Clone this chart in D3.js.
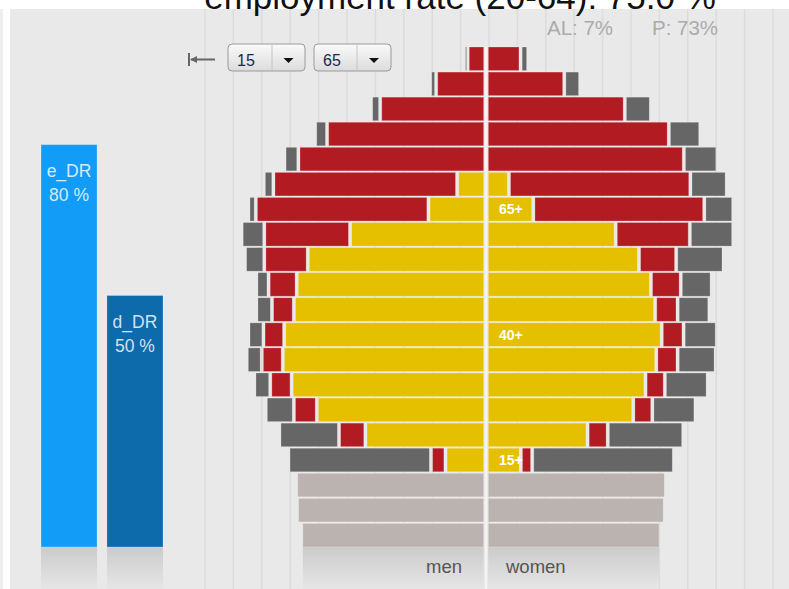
<!DOCTYPE html>
<html>
<head>
<meta charset="utf-8">
<script src="https://cdn.jsdelivr.net/npm/d3@7/dist/d3.min.js"></script>
<style>
body{margin:0;background:#fff;}
svg{display:block;font-family:"Liberation Sans",Arial,sans-serif;}
</style>
</head>
<body>
<svg id="chart" width="789" height="589"></svg>
<script>
// age groups, 5 years each (bottom row = 0-4)
let ages = [0,5,10,15,20,25,30,35,40,45,50,55,60,65,70,75,80,85,90,95];

// men (left side)
let menChildren = [64.5,66.0,66.3,0,0,0,0,0,0,0,0,0,0,0,0,0,0,0,0,0];
let menEmployed = [0,0,0,13.7,41.9,59.0,67.9,71.0,70.5,67.1,66.1,62.2,47.3,19.7,9.6,0,0,0,0,0];
let menRetired  = [0,0,0,5.1,9.3,8.1,7.5,7.4,7.3,7.7,9.9,15.3,30.2,60.8,64.7,65.5,55.4,36.7,17.0,5.9];
let menOther    = [0,0,0,50.2,21.0,9.9,5.6,5.3,5.3,5.5,4.3,6.8,8.0,2.6,3.4,4.9,4.2,3.2,2.1,1.3];

// women (right side)
let womenChildren = [60.9,62.4,62.8,0,0,0,0,0,0,0,0,0,0,0,0,0,0,0,0,0];
let womenEmployed = [0,0,0,11.7,35.2,51.3,55.6,59.4,61.3,59.0,57.5,53.3,45.1,16.1,7.5,0,0,0,0,0];
let womenRetired  = [0,0,0,4.0,7.1,6.7,6.8,7.5,7.7,7.9,10.5,13.1,26.1,60.2,63.9,69.1,63.8,48.3,27.0,11.6];
let womenOther    = [0,0,0,49.9,26.6,15.2,15.1,13.4,11.7,11.2,10.9,16.7,15.3,10.2,12.8,11.8,11.1,9.2,5.6,2.7];

let ageMarks = [15,40,65];

// dependency ratios on the left
let ratioNames = ["e_DR","d_DR"];
let ratioValues = [80,50];

let titleText = "employment rate (20-64): 75.0 %";
let statTexts = ["AL: 7%","P: 73%"];

let keys = ["children","employed","retired","other"];
let colors = {children:"#bab3af", employed:"#e5c000", retired:"#b31b22", other:"#666666"};

let svg = d3.select("#chart");
let cx = 486;

let defs = svg.append("defs");
let grad = defs.append("linearGradient").attr("id","refl").attr("x1",0).attr("y1",0).attr("x2",0).attr("y2",1);
grad.append("stop").attr("offset","0%").attr("stop-color","#cbcbcb");
grad.append("stop").attr("offset","100%").attr("stop-color","#e6e6e6");
let btn = defs.append("linearGradient").attr("id","btn").attr("x1",0).attr("y1",0).attr("x2",0).attr("y2",1);
btn.append("stop").attr("offset","0%").attr("stop-color","#fafafa");
btn.append("stop").attr("offset","100%").attr("stop-color","#dcdcdc");

// background panel
svg.append("rect").attr("x",0).attr("y",9).attr("width",3).attr("height",580).attr("fill","#eeeeee");
svg.append("rect").attr("x",10).attr("y",9).attr("width",779).attr("height",580).attr("fill","#e9e9e9");

let xs = d3.scaleLinear().domain([0,100]).range([0,284]);

// grid lines
let gridTicks = d3.range(-10,11);
svg.append("g").selectAll("line")
    .data(gridTicks)
    .enter()
    .append("line")
    .attr("x1", function(d){ return 489 + d*28.4 })
    .attr("x2", function(d){ return 489 + d*28.4 })
    .attr("y1", 9)
    .attr("y2", 589)
    .attr("stroke", "#dcdcdc")
    .attr("stroke-width", 1.5)

// title (cut at top, as in the original page)
svg.append("text").attr("x",460).attr("y",9).attr("text-anchor","middle")
    .attr("font-size",35).attr("fill","#111").text(titleText);

svg.append("text").attr("x",547).attr("y",35).attr("font-size",20.5).attr("fill","#ababab").text(statTexts[0]);
svg.append("text").attr("x",652).attr("y",35).attr("font-size",20.5).attr("fill","#ababab").text(statTexts[1]);

// left ratio bars
let yr = d3.scaleLinear().domain([0,100]).range([547,44]);
let xr = d3.scaleBand().domain(ratioNames).range([41,163]).paddingInner(0.15);
let ratioColors = ["#139cf7","#0d6aab"];

let ratioG = svg.append("g");
ratioG.selectAll("rect.refl")
    .data(ratioNames)
    .enter()
    .append("rect")
    .attr("class","refl")
    .attr("x", function(d){ return xr(d) })
    .attr("y", 547)
    .attr("width", xr.bandwidth())
    .attr("height", 42)
    .attr("fill", "url(#refl)")
ratioG.selectAll("rect.bar")
    .data(ratioNames)
    .enter()
    .append("rect")
    .attr("class","bar")
    .attr("x", function(d){ return xr(d) })
    .attr("y", function(d,i){ return yr(ratioValues[i]) })
    .attr("width", xr.bandwidth())
    .attr("height", function(d,i){ return yr(0) - yr(ratioValues[i]) })
    .attr("fill", function(d,i){ return ratioColors[i] })
    .attr("stroke", "rgba(255,255,255,0.25)")
ratioG.selectAll("text.name")
    .data(ratioNames)
    .enter()
    .append("text")
    .attr("x", function(d){ return xr(d) + xr.bandwidth()/2 })
    .attr("y", function(d,i){ return yr(ratioValues[i]) + 32 })
    .attr("text-anchor","middle").attr("font-size",17.5).attr("fill","rgba(255,255,255,0.82)")
    .text(function(d){ return d })
ratioG.selectAll("text.val")
    .data(ratioNames)
    .enter()
    .append("text")
    .attr("x", function(d){ return xr(d) + xr.bandwidth()/2 })
    .attr("y", function(d,i){ return yr(ratioValues[i]) + 56 })
    .attr("text-anchor","middle").attr("font-size",17.5).attr("fill","rgba(255,255,255,0.82)")
    .text(function(d,i){ return ratioValues[i] + " %" })

// pyramid
let yb = d3.scaleBand().domain(ages.slice().reverse()).range([47,547]).paddingInner(0.06);

let menRows = ages.map(function(a,i){
    return {age:a, children:menChildren[i], employed:menEmployed[i], retired:menRetired[i], other:menOther[i]};
});
let womenRows = ages.map(function(a,i){
    return {age:a, children:womenChildren[i], employed:womenEmployed[i], retired:womenRetired[i], other:womenOther[i]};
});

let stack = d3.stack().keys(keys);

function drawSide(rows, sign){
    let layers = stack(rows);
    let g = svg.append("g");
    // reflection under the youngest row
    let base = rows[0].children;
    g.append("rect")
        .attr("x", sign > 0 ? cx + 2.3 : cx - xs(base))
        .attr("y", 547)
        .attr("width", xs(base) - 2.3)
        .attr("height", 42)
        .attr("fill", "url(#refl)")
    layers.forEach(function(layer){
        g.append("g").selectAll("rect")
            .data(layer.filter(function(d){ return d[1] - d[0] > 0 }))
            .enter()
            .append("rect")
            .attr("x", function(d){
                let inner = xs(d[0]) + (d[0] == 0 ? 2.3 : 3.2);
                return sign > 0 ? cx + inner : cx - xs(d[1]);
            })
            .attr("y", function(d){ return yb(d.data.age) })
            .attr("width", function(d){
                let inner = xs(d[0]) + (d[0] == 0 ? 2.3 : 3.2);
                return Math.max(xs(d[1]) - inner, 1);
            })
            .attr("height", yb.bandwidth())
            .attr("fill", colors[layer.key])
            .attr("stroke", "rgba(255,255,255,0.3)")
            .attr("stroke-width", 0.8)
    });
}
drawSide(menRows, -1);
drawSide(womenRows, 1);

// center line
svg.append("rect").attr("x",cx-1).attr("y",47).attr("width",2).attr("height",542).attr("fill","#f4f4f4");

svg.append("g").selectAll("text")
    .data(ageMarks)
    .enter()
    .append("text")
    .attr("x", cx + 13)
    .attr("y", function(d){ return yb(d) + yb.bandwidth()/2 + 5 })
    .attr("font-size", 14).attr("font-weight","bold").attr("fill","#fff")
    .text(function(d){ return d + "+" })

svg.append("text").attr("x",462).attr("y",573).attr("text-anchor","end").attr("font-size",18.5).attr("fill","#555").text("men");
svg.append("text").attr("x",506).attr("y",573).attr("font-size",18.5).attr("fill","#555").text("women");

// age range controls
let ctl = svg.append("g");
ctl.append("line").attr("x1",189).attr("x2",189).attr("y1",53).attr("y2",66).attr("stroke","#666").attr("stroke-width",2);
ctl.append("line").attr("x1",191).attr("x2",215).attr("y1",59.5).attr("y2",59.5).attr("stroke","#666").attr("stroke-width",2);
ctl.append("path").attr("d","M190,59.5 L197,56 L197,63 Z").attr("fill","#666");
let boxes = [{x:228, w:77, label:"15", div:272}, {x:314, w:77, label:"65", div:357}];
boxes.forEach(function(b){
    ctl.append("rect").attr("x",b.x).attr("y",44).attr("width",b.w).attr("height",27).attr("rx",4)
        .attr("fill","url(#btn)").attr("stroke","#9a9a9a");
    ctl.append("line").attr("x1",b.div).attr("x2",b.div).attr("y1",45).attr("y2",70).attr("stroke","#c4c4c4");
    ctl.append("text").attr("x",b.x+9).attr("y",66).attr("font-size",16).attr("fill","#1c2a4a").text(b.label);
    let ax = b.div + (b.x + b.w - b.div)/2;
    ctl.append("path").attr("d","M"+(ax-5)+",58 L"+(ax+5)+",58 L"+ax+",63 Z").attr("fill","#111");
});
</script>
</body>
</html>
